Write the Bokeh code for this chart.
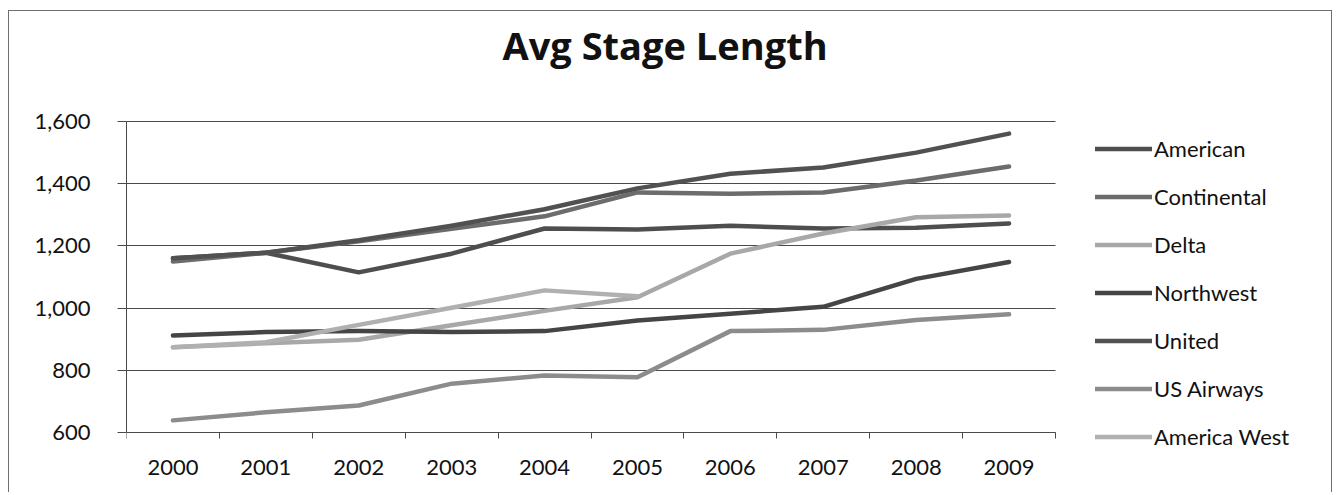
from bokeh.plotting import figure
from bokeh.models import Range1d, FixedTicker, NumeralTickFormatter, Legend, LegendItem, Label
from bokeh.embed import file_html
from bokeh.resources import INLINE

years = [2000, 2001, 2002, 2003, 2004, 2005, 2006, 2007, 2008, 2009]
series_names = ["American", "Continental", "Delta", "Northwest", "United", "US Airways", "America West"]
american = [1160, 1178, 1115, 1175, 1256, 1253, 1265, 1256, 1258, 1272]
continental = [1150, 1178, 1215, 1255, 1295, 1372, 1368, 1372, 1410, 1455]
delta = [874, 887, 898, 945, 991, 1035, 1175, 1240, 1292, 1298]
northwest = [912, 923, 926, 923, 926, 960, 982, 1004, 1094, 1148]
united = [1160, 1178, 1218, 1265, 1318, 1385, 1432, 1452, 1500, 1561]
us_airways = [639, 665, 687, 757, 783, 778, 926, 930, 962, 980]
america_west = [874, 890, 946, 1001, 1057, 1038]
y_ticks = [600, 800, 1000, 1200, 1400, 1600]
year_labels = [str(y) for y in years]
title_text = "Avg Stage Length"

colors = ["#4e4e4e", "#6c6c6c", "#a8a8a8", "#454545", "#515151", "#8c8c8c", "#b0b0b0"]
all_values = [american, continental, delta, northwest, united, us_airways, america_west]

FONT = "Lato"

# ---- layout: page pixels, converted to figure pixels via the chart-box offset ----
OX, OY = 9, 11                      # figure origin on the page (margin + 1px frame line)
W, H = 1324, 482
LEFT = 126 - OX                     # plot-area left edge
DATA_RIGHT = 1055 - OX              # plot-area right edge
GRID_TOP = 121 - OY                 # top gridline row
AXIS_Y = 432 - OY                   # category axis row
FRAME_TOP, FRAME_BOTTOM = 5, H - 10

px_per_year = (DATA_RIGHT - LEFT) / len(years)
x0 = years[0] - 0.5
x1 = x0 + (W - LEFT) / px_per_year
px_per_unit = (AXIS_Y - GRID_TOP) / (y_ticks[-1] - y_ticks[0])


def y_at(py):
    return y_ticks[-1] + (GRID_TOP - py) / px_per_unit


def x_at(px):
    return x0 + (px - LEFT) / px_per_year


p = figure(width=W, height=H, output_backend="svg", toolbar_location=None,
           x_range=Range1d(x0, x1), y_range=Range1d(y_at(FRAME_BOTTOM), y_at(FRAME_TOP)),
           min_border_left=LEFT, min_border_right=0, min_border_top=FRAME_TOP,
           min_border_bottom=H - FRAME_BOTTOM)
p.styles = {"margin-left": "8px", "margin-top": "10px",
            "border-left": "1px solid #6e6e6e", "border-top": "1px solid #6e6e6e",
            "border-right": "1px solid #6e6e6e"}
p.outline_line_color = None
p.background_fill_alpha = 0
p.border_fill_alpha = 0
p.title.text = ""
p.title.standoff = 0

# title drawn as a label inside the widened frame
p.add_layout(Label(x=x_at(502 - OX), y=y_at(44 - OY), text=title_text, text_align="left",
                   text_baseline="alphabetic", text_font="Open Sans", text_font_style="bold",
                   text_font_size="38px", text_color="#111111"))

# grid
p.xgrid.grid_line_color = None
p.ygrid.ticker = FixedTicker(ticks=y_ticks)
p.ygrid.grid_line_color = "#4a4a4a"
p.ygrid.grid_line_width = 1
p.ygrid.cross_bounds = (years[0] - 0.5, years[-1] + 0.5)

# y axis
ya = p.yaxis[0]
ya.ticker = FixedTicker(ticks=y_ticks)
ya.formatter = NumeralTickFormatter(format="0,0")
ya.bounds = (y_ticks[0], y_ticks[-1])
ya.axis_line_color = "#4a4a4a"
ya.major_tick_line_color = "#4a4a4a"
ya.major_tick_out = 9
ya.major_tick_in = 0
ya.minor_tick_line_color = None
ya.major_label_standoff = 27
ya.major_label_text_font = FONT
ya.major_label_text_font_size = "22px"
ya.major_label_text_color = "#111111"

# x axis: line + boundary tick marks at the 600 level
xa = p.xaxis[0]
xa.fixed_location = y_ticks[0]
xa.bounds = (years[0] - 0.5, years[-1] + 0.5)
xa.ticker = FixedTicker(ticks=[], minor_ticks=[y - 0.5 for y in years] + [years[-1] + 0.5])
xa.axis_line_color = "#4a4a4a"
xa.major_tick_line_color = None
xa.major_tick_out = 0
xa.major_tick_in = 0
xa.major_label_standoff = 0
xa.minor_tick_line_color = "#4a4a4a"
xa.minor_tick_out = 6
xa.minor_tick_in = 0

# category labels under the axis
p.text(x=years, y=[y_ticks[0]] * len(years), text=year_labels, y_offset=35,
       text_align="center", text_baseline="middle", text_font={"value": FONT},
       text_font_size="22px", text_color="#111111")

items = []
for name, vals, col in zip(series_names, all_values, colors):
    r = p.line(years[:len(vals)], vals, line_color=col, line_width=4.5,
               line_cap="round", line_join="round")
    items.append(LegendItem(label=name, renderers=[r]))

# legend, right of the data area
PAD, ROW_H, ROW_GAP = 4, 27, 21
first_row_center = 144 - OY
legend_top = first_row_center - ROW_H / 2 - PAD
legend_h = 2 * PAD + len(items) * ROW_H + (len(items) - 1) * ROW_GAP
legend_x = (1099 - OX) - PAD - LEFT
legend_y = FRAME_BOTTOM - (legend_top + legend_h)

legend = Legend(items=items, location=(legend_x, legend_y))
legend.border_line_color = None
legend.background_fill_alpha = 0
legend.margin = 0
legend.padding = PAD
legend.spacing = ROW_GAP
legend.glyph_width = 57
legend.glyph_height = ROW_H
legend.label_height = ROW_H
legend.label_standoff = 2
legend.label_text_font = FONT
legend.label_text_font_size = "22px"
legend.label_text_color = "#111111"
p.add_layout(legend)

open("out.html", "w").write(file_html(p, INLINE))
